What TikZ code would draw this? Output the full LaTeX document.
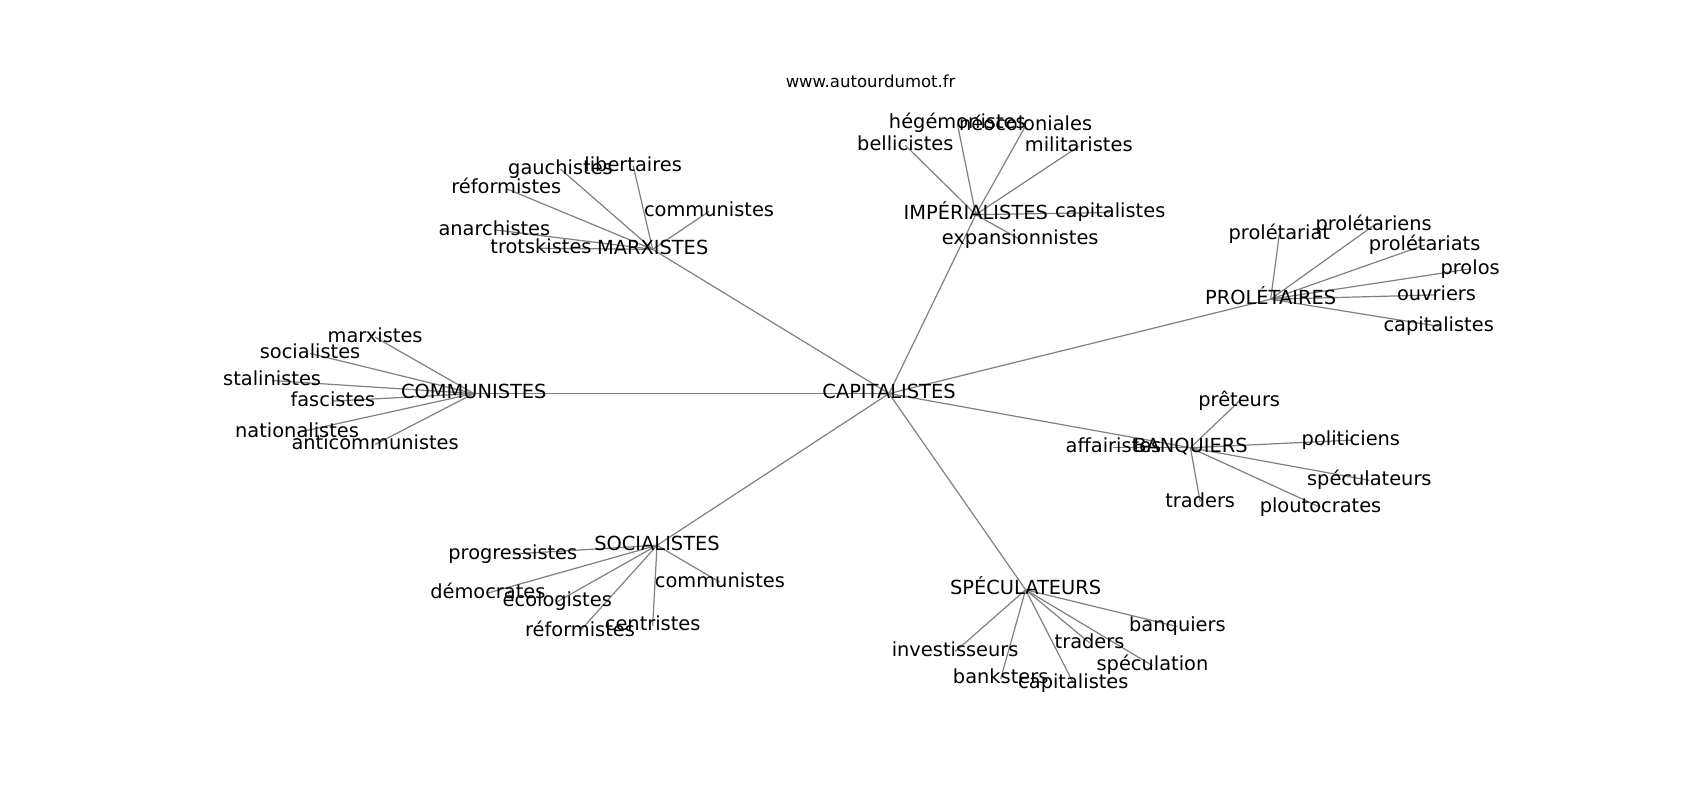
\documentclass[tikz,border=0pt]{standalone}
\usepackage{fontspec}
\setmainfont{DejaVu Sans}
\pgfdeclarelayer{bg}
\pgfsetlayers{bg,main}
\tikzset{
  lbl/.style={inner sep=0pt, outer sep=0pt, text height=0.76em, text depth=0.24em, font=\fontsize{9.7}{11}\selectfont, text=black},
  ttl/.style={inner sep=0pt, outer sep=0pt, text height=0.76em, text depth=0.24em, font=\fontsize{8.25}{10}\selectfont, text=black},
  edge/.style={draw=black!50, line width=0.6pt}
}
\begin{document}
\begin{tikzpicture}[x=0.5421pt, y=-0.5421pt]
\useasboundingbox (0,0) rectangle (1568,738);
\node[ttl] (title) at (803,76) {www.autourdumot.fr};
% hub
\node[lbl] (cap) at (820,363) {CAPITALISTES};
% imperialistes
\node[lbl] (imp) at (900,198) {IMPÉRIALISTES};
\node[lbl] (imp1) at (883,114) {hégémonistes};
\node[lbl] (imp2) at (946,116) {néocoloniales};
\node[lbl] (imp3) at (835,134) {bellicistes};
\node[lbl] (imp4) at (995,135) {militaristes};
\node[lbl] (imp5) at (1024,196) {capitalistes};
\node[lbl] (imp6) at (941,221) {expansionnistes};
% marxistes
\node[lbl] (mar) at (602,230) {MARXISTES};
\node[lbl] (mar1) at (517,156) {gauchistes};
\node[lbl] (mar2) at (584,153) {libertaires};
\node[lbl] (mar3) at (467,174) {réformistes};
\node[lbl] (mar4) at (654,195) {communistes};
\node[lbl] (mar5) at (456,212) {anarchistes};
\node[lbl] (mar6) at (499,229) {trotskistes};
% proletaires
\node[lbl] (pro) at (1172,276) {PROLÉTAIRES};
\node[lbl] (pro1) at (1180,216) {prolétariat};
\node[lbl] (pro2) at (1267,208) {prolétariens};
\node[lbl] (pro3) at (1314,226) {prolétariats};
\node[lbl] (pro4) at (1356,248) {prolos};
\node[lbl] (pro5) at (1325,272) {ouvriers};
\node[lbl] (pro6) at (1327,301) {capitalistes};
% communistes
\node[lbl] (com) at (437,363) {COMMUNISTES};
\node[lbl] (com1) at (346,311) {marxistes};
\node[lbl] (com2) at (286,326) {socialistes};
\node[lbl] (com3) at (251,351) {stalinistes};
\node[lbl] (com4) at (307,370) {fascistes};
\node[lbl] (com5) at (274,399) {nationalistes};
\node[lbl] (com6) at (346,410) {anticommunistes};
% socialistes
\node[lbl] (soc) at (606,503) {SOCIALISTES};
\node[lbl] (soc1) at (473,511) {progressistes};
\node[lbl] (soc2) at (450,547) {démocrates};
\node[lbl] (soc3) at (514,555) {écologistes};
\node[lbl] (soc4) at (535,582) {réformistes};
\node[lbl] (soc5) at (602,577) {centristes};
\node[lbl] (soc6) at (664,537) {communistes};
% speculateurs
\node[lbl] (spe) at (946,544) {SPÉCULATEURS};
\node[lbl] (spe1) at (881,601) {investisseurs};
\node[lbl] (spe2) at (923,626) {banksters};
\node[lbl] (spe3) at (990,630) {capitalistes};
\node[lbl] (spe4) at (1005,593) {traders};
\node[lbl] (spe5) at (1086,578) {banquiers};
\node[lbl] (spe6) at (1063,614) {spéculation};
% banquiers
\node[lbl] (ban) at (1098,413) {BANQUIERS};
\node[lbl] (ban1) at (1143,370) {prêteurs};
\node[lbl] (ban2) at (1246,406) {politiciens};
\node[lbl] (ban3) at (1263,443) {spéculateurs};
\node[lbl] (ban4) at (1218,468) {ploutocrates};
\node[lbl] (ban5) at (1107,463) {traders};
\node[lbl] (ban6) at (1027,413) {affairistes};
\begin{pgfonlayer}{bg}
\fill[white] (0,0) rectangle (1568,738);
\foreach \g in {imp,mar,pro,com,soc,spe,ban}{
  \draw[edge] (cap.center) -- (\g.center);
  \foreach \i in {1,...,6}{
    \draw[edge] (\g.center) -- (\g\i.center);
  }
}
\end{pgfonlayer}
\end{tikzpicture}
\end{document}
